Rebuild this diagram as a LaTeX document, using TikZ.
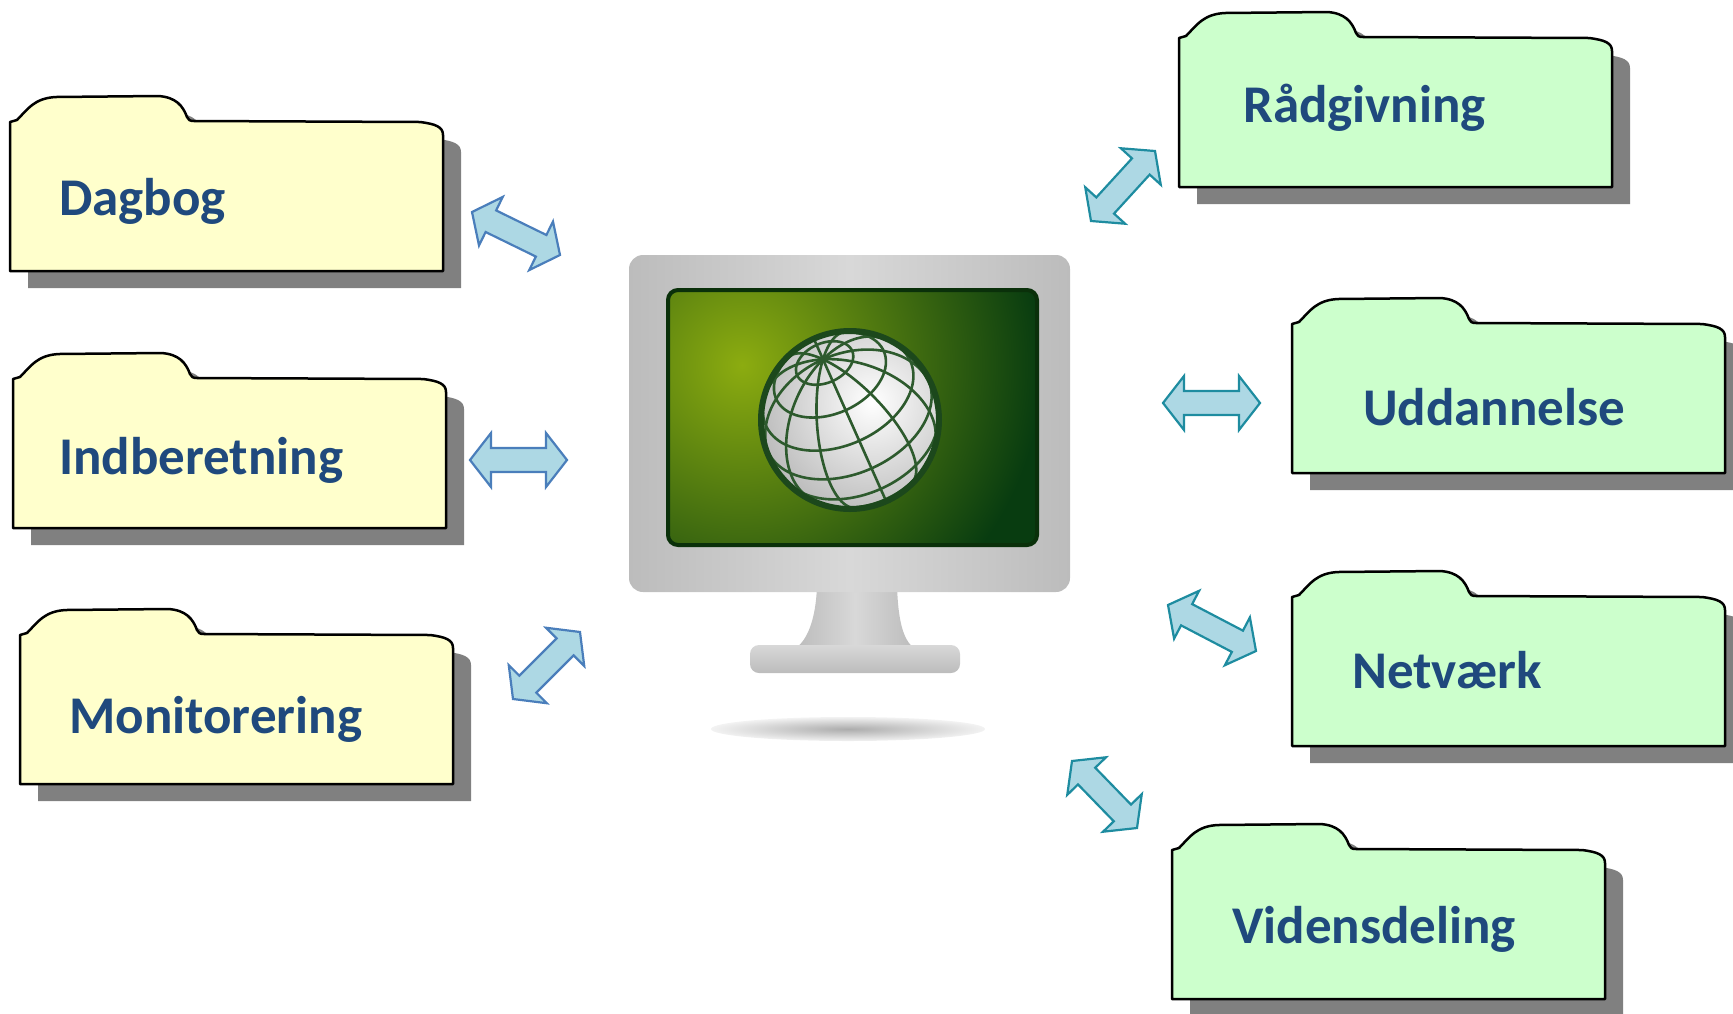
\documentclass[tikz,border=0pt]{standalone}
\usepackage{fontspec}
\setmainfont{Carlito}
\usepackage{tikz}
\usetikzlibrary{calc}

\definecolor{folderyellow}{RGB}{255,255,204}
\definecolor{foldergreen}{RGB}{204,255,204}
\definecolor{shadowgray}{RGB}{128,128,128}
\definecolor{textblue}{RGB}{31,73,125}
\definecolor{arrowfill}{RGB}{173,216,228}
\definecolor{arrowblue}{RGB}{74,126,187}
\definecolor{arrowteal}{RGB}{30,140,160}
\definecolor{framegray}{RGB}{188,188,188}
\definecolor{framelight}{RGB}{216,216,216}
\definecolor{scrlight}{RGB}{140,172,16}
\definecolor{scrdark}{RGB}{8,60,16}
\definecolor{scredge}{RGB}{10,48,10}
\definecolor{globering}{RGB}{28,72,28}
\definecolor{gridgreen}{RGB}{45,90,45}

% folder outline, tab top left at (0,0), y downwards
\newcommand{\folderpath}{(0,175) -- (0,26) -- (7,24) .. controls (17,14) and (24,2) .. (46,1) -- (148,0) .. controls (166,1) and (173,10) .. (177,21) .. controls (178,24) and (180,25) .. (184,25) -- (410,26) .. controls (426,28) and (433,31) .. (433,39) -- (433,175) -- cycle}

% double block arrow between two named coordinates
\newcommand{\dblarrow}[3]{%
  \coordinate (hA) at ($(#1)!21pt!(#2)$);
  \coordinate (hB) at ($(#2)!21pt!(#1)$);
  \draw[#3] (#1) -- ($(hA)!27pt!90:(#2)$) -- ($(hA)!12pt!90:(#2)$)
    -- ($(hB)!12pt!-90:(#1)$) -- ($(hB)!27pt!-90:(#1)$) -- (#2)
    -- ($(hB)!27pt!90:(#1)$) -- ($(hB)!12pt!90:(#1)$)
    -- ($(hA)!12pt!-90:(#2)$) -- ($(hA)!27pt!-90:(#2)$) -- cycle;}

% globe
\newcommand{\gloX}{850}
\newcommand{\gloY}{420}
\newcommand{\gloR}{88}
\newcommand{\gloT}{49}
\newcommand{\gloS}{24}

\begin{document}
\begin{tikzpicture}[x=1pt, y=-1pt,
    folder/.style={draw=black, line width=2.5pt, line join=round},
    lbl/.style={anchor=base west, inner sep=0pt, text=textblue, font=\fontsize{53}{60}\selectfont\bfseries},
    arrowleft/.style={fill=arrowfill, draw=arrowblue, line width=2.2pt},
    arrowright/.style={fill=arrowfill, draw=arrowteal, line width=2.2pt},
    gridline/.style={draw=gridgreen, line width=2.6pt, line cap=round}]
    \useasboundingbox (0,0) rectangle (1733,1013);

    % monitor
    \shade[inner color=gray!65, outer color=gray!10] (848,729) ellipse (137 and 12);
    \shade[left color=framegray, right color=framegray, middle color=framelight]
        (817,585) -- (897,585) .. controls (898,620) and (903,640) .. (914,648)
        -- (796,648) .. controls (807,640) and (816,620) .. (817,585) -- cycle;
    \shade[rounded corners=9pt, top color=framelight, bottom color=framegray] (750,645) rectangle (960,673);
    \shade[rounded corners=14pt, left color=framegray, right color=framegray, middle color=framelight] (629,255) rectangle (1070,592);
    \begin{scope}
        \clip[rounded corners=10pt] (668,290) rectangle (1037,545);
        \fill[scrdark] (668,290) rectangle (1037,545);
        \shade[inner color=scrlight, outer color=scrdark] (742,365) circle (300);
    \end{scope}
    \draw[scredge, line width=4pt, rounded corners=10pt] (668,290) rectangle (1037,545);

    \begin{scope}
        \clip (\gloX,\gloY) circle (\gloR);
        \shade[inner color=white, outer color=gray!55] (872,402) circle (120);
    \end{scope}
    \foreach \lo in {0,30,...,330} {
        \pgfmathsetmacro{\phlo}{atan(tan(\gloT)*sin(\lo))}
        \draw[gridline] plot[domain=\phlo:90, samples=30, smooth, variable=\t]
            ({\gloX + \gloR*(cos(\t)*cos(\lo)*cos(\gloS) - (cos(\t)*sin(\lo)*cos(\gloT) + sin(\t)*sin(\gloT))*sin(\gloS))},
             {\gloY - \gloR*(cos(\t)*cos(\lo)*sin(\gloS) + (cos(\t)*sin(\lo)*cos(\gloT) + sin(\t)*sin(\gloT))*cos(\gloS))});
    }
    \foreach \la in {70,48,26,4,-18,-40} {
        \pgfmathsetmacro{\kk}{asin(max(-1,min(1,tan(\la)/tan(\gloT))))}
        \pgfmathsetmacro{\lonA}{180-\kk}
        \pgfmathsetmacro{\lonB}{360+\kk}
        \draw[gridline] plot[domain=\lonA:\lonB, samples=60, smooth, variable=\t]
            ({\gloX + \gloR*(cos(\la)*cos(\t)*cos(\gloS) - (cos(\la)*sin(\t)*cos(\gloT) + sin(\la)*sin(\gloT))*sin(\gloS))},
             {\gloY - \gloR*(cos(\la)*cos(\t)*sin(\gloS) + (cos(\la)*sin(\t)*cos(\gloT) + sin(\la)*sin(\gloT))*cos(\gloS))});
    }
    \draw[globering, line width=6pt] (\gloX,\gloY) circle (\gloR+1);

    % folders
    \foreach \nm/\fx/\fy/\fc/\tx/\ty/\ft in {
        dagbog/10/96/folderyellow/49/119/Dagbog,
        indberetning/13/353/folderyellow/46/121/Indberetning,
        monitorering/20/609/folderyellow/49/124/Monitorering,
        raadgivning/1179/12/foldergreen/64/110/Rådgivning,
        uddannelse/1292/298/foldergreen/71/127/Uddannelse,
        netvaerk/1292/571/foldergreen/60/117/Netværk,
        vidensdeling/1172/824/foldergreen/60/119/Vidensdeling} {
        \begin{scope}[shift={(\fx,\fy)}]
            \fill[shadowgray, shift={(18,17)}] \folderpath;
            \filldraw[folder, fill=\fc] \folderpath;
            \node[lbl] (\nm) at (\tx,\ty) {\ft};
        \end{scope}
    }

    % arrows
    \coordinate (dagA) at (472,212);   \coordinate (dagB) at (560,255);
    \coordinate (indA) at (470,460);   \coordinate (indB) at (567,460);
    \coordinate (monA) at (513,699);   \coordinate (monB) at (580,632);
    \coordinate (raaA) at (1155,151);  \coordinate (raaB) at (1091,221);
    \coordinate (uddA) at (1260,403);  \coordinate (uddB) at (1163,403);
    \coordinate (netA) at (1256,651);  \coordinate (netB) at (1168,605);
    \coordinate (vidA) at (1137,828);  \coordinate (vidB) at (1072,761);
    \foreach \a/\b in {dagA/dagB, indA/indB, monA/monB}
        \dblarrow{\a}{\b}{arrowleft};
    \foreach \a/\b in {raaA/raaB, uddA/uddB, netA/netB, vidA/vidB}
        \dblarrow{\a}{\b}{arrowright};
\end{tikzpicture}
\end{document}
